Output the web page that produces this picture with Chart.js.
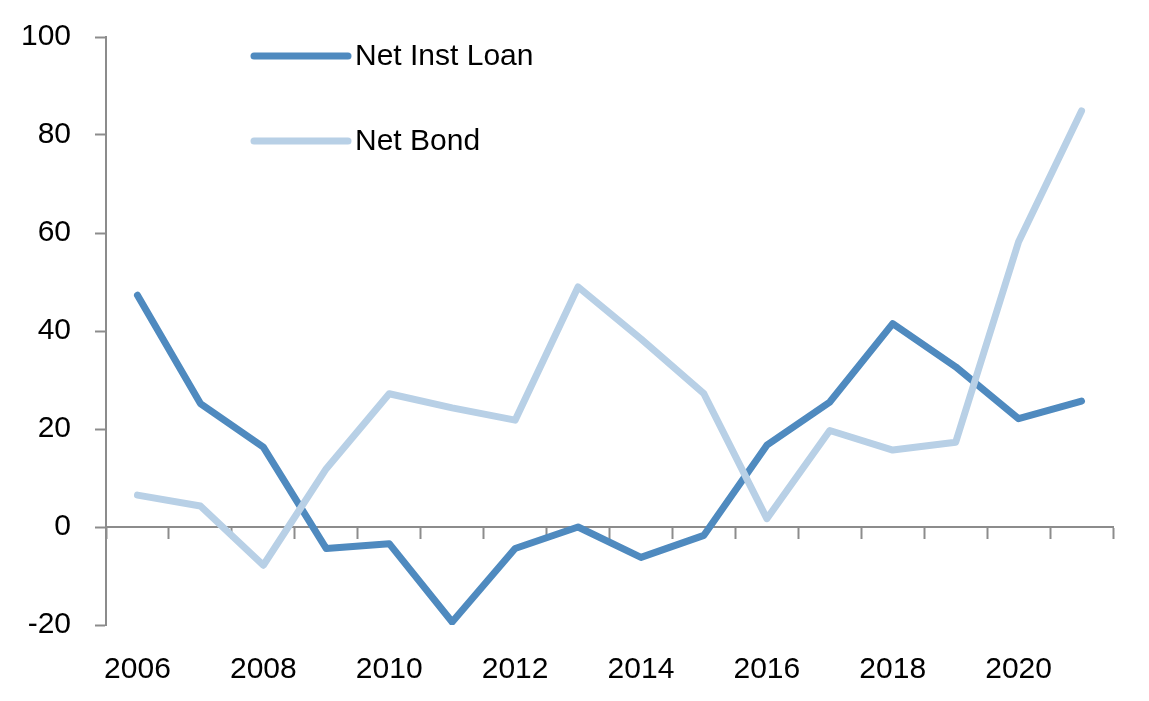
<!DOCTYPE html>
<html>
<head>
<meta charset="utf-8">
<script src="https://cdn.jsdelivr.net/npm/chart.js@4.4.1/dist/chart.umd.min.js"></script>
<style>
  html, body { margin: 0; padding: 0; background: #fff; }
  #wrap { width: 1149px; height: 701px; position: relative; }
</style>
</head>
<body>
<div id="wrap"><canvas id="chart"></canvas></div>
<script>
/* global Chart */

const years = ['2006', '2007', '2008', '2009', '2010', '2011', '2012', '2013',
  '2014', '2015', '2016', '2017', '2018', '2019', '2020', '2021'];
const netInstLoan = [47.3, 25.2, 16.3, -4.4, -3.4, -19.4, -4.4, 0, -6.2, -1.7, 16.7, 25.5, 41.5, 32.7, 22.1, 25.7];
const netBond = [6.5, 4.3, -7.8, 11.9, 27.2, 24.3, 21.8, 49.0, 38.4, 27.2, 1.7, 19.7, 15.7, 17.3, 58.2, 84.9];
const yTicks = [-20, 0, 20, 40, 60, 80, 100];

const FONT = "'Liberation Sans Narrow', 'Arial Narrow', 'Liberation Sans', Arial, sans-serif";
const FONT_SIZE = 30;
const AXIS = '#8c8c8c';
const DARK = '#4f8abf';
const LIGHT = '#b8d0e6';

// legend drawn in the upper left, stacked, like the original
const stackedLegend = {
  id: 'stackedLegend',
  afterDraw(chart) {
    const { ctx, chartArea } = chart;
    const x0 = chartArea.left + 148;
    const rows = [56, 141];
    ctx.save();
    chart.data.datasets.forEach((ds, i) => {
      const y = rows[i];
      ctx.strokeStyle = ds.borderColor;
      ctx.lineWidth = 7;
      ctx.lineCap = 'round';
      ctx.beginPath();
      ctx.moveTo(x0, y);
      ctx.lineTo(x0 + 94, y);
      ctx.stroke();
      ctx.fillStyle = '#000';
      ctx.font = `${FONT_SIZE}px ${FONT}`;
      ctx.textBaseline = 'middle';
      ctx.fillText(ds.label, x0 + 101, y + 1);
    });
    ctx.restore();
  },
};

new Chart(document.getElementById('chart'), {
  type: 'line',
  data: {
    labels: years,
    datasets: [
      { label: 'Net Inst Loan', data: netInstLoan, borderColor: DARK, order: 2 },
      { label: 'Net Bond', data: netBond, borderColor: LIGHT, order: 1 },
    ],
  },
  options: {
    responsive: true,
    maintainAspectRatio: false,
    animation: false,
    layout: { padding: { top: 10, right: 36, bottom: 0, left: 0 } },
    elements: {
      line: { borderWidth: 7, tension: 0, borderCapStyle: 'round', borderJoinStyle: 'round', fill: false },
      point: { radius: 0, hoverRadius: 0 },
    },
    plugins: { legend: { display: false }, tooltip: { enabled: false } },
    scales: {
      x: {
        type: 'category',
        offset: true,
        border: { display: false },
        grid: { display: false, drawTicks: false },
        afterFit: (axis) => { axis.height = 76; },
        ticks: {
          autoSkip: false,
          maxRotation: 0,
          padding: 27,
          color: '#000',
          font: { family: FONT, size: FONT_SIZE },
          callback: (v, i) => (i % 2 === 0 ? years[i] : ''),
        },
      },
      x0: {
        type: 'category',
        labels: years,
        offset: true,
        position: { y: 0 },
        border: { display: true, color: AXIS, width: 2 },
        grid: {
          display: true,
          offset: true,
          drawOnChartArea: false,
          drawTicks: true,
          tickLength: 11,
          tickWidth: 2,
          color: AXIS,
        },
        ticks: { display: false },
      },
      y: {
        min: -20,
        max: 100,
        afterBuildTicks: (axis) => { axis.ticks = yTicks.map((v) => ({ value: v })); },
        afterFit: (axis) => {
          axis.width = 106;
          axis.paddingTop = 37;
          axis.paddingBottom = 0;
        },
        border: { display: true, color: AXIS, width: 2 },
        grid: { display: true, drawOnChartArea: false, drawTicks: true, tickLength: 11, tickWidth: 2, color: AXIS },
        ticks: {
          padding: 24,
          color: '#000',
          font: { family: FONT, size: FONT_SIZE },
        },
      },
    },
  },
  plugins: [stackedLegend],
});
</script>
</body>
</html>
